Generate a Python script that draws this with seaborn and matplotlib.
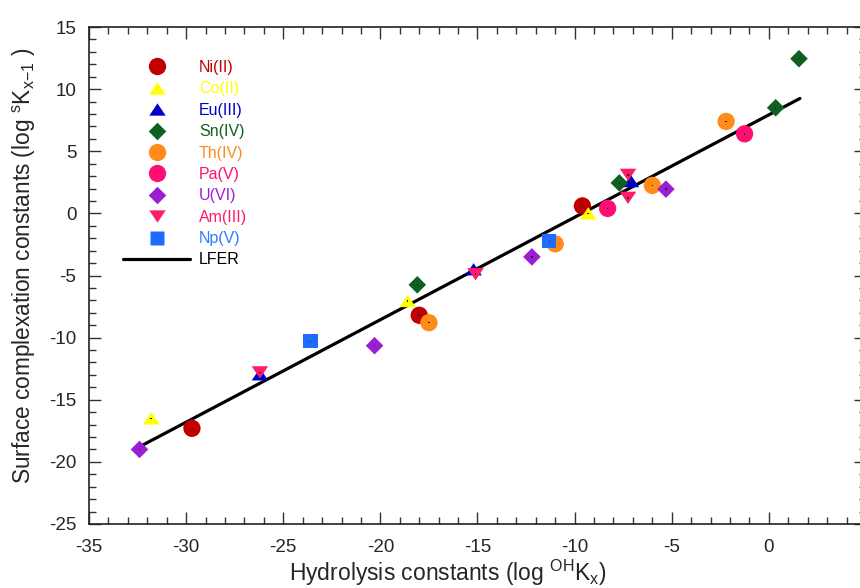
import numpy as np
import pandas as pd
import matplotlib
matplotlib.use("Agg")
import matplotlib.pyplot as plt
from matplotlib.lines import Line2D
from matplotlib.markers import MarkerStyle
from matplotlib.ticker import MultipleLocator
import seaborn as sns

# ---------------- data ----------------
ni_x = [-29.7, -18.0, -9.6]
ni_y = [-17.3, -8.2, 0.6]
co_x = [-31.8, -18.6, -9.3]
co_y = [-16.5, -7.05, 0.0]
eu_x = [-26.2, -15.2, -7.1]
eu_y = [-12.95, -4.5, 2.6]
sn_x = [-18.1, -7.7, 0.35, 1.55]
sn_y = [-5.75, 2.45, 8.5, 12.45]
th_x = [-17.5, -11.0, -6.0, -2.2]
th_y = [-8.8, -2.45, 2.25, 7.4]
pa_x = [-8.3, -1.25]
pa_y = [0.4, 6.4]
u_x = [-32.4, -20.3, -12.2, -5.3]
u_y = [-19.0, -10.65, -3.5, 1.95]
am_x = [-26.2, -15.1, -7.25, -7.25]
am_y = [-12.8, -4.9, 3.1, 1.25]
np_x = [-23.6, -11.3]
np_y = [-10.3, -2.25]
lfer_x = [-32.3, 1.6]
lfer_y = [-18.7, 9.25]

labels = ["Ni(II)", "Co(II)", "Eu(III)", "Sn(IV)", "Th(IV)", "Pa(V)", "U(VI)", "Am(III)", "Np(V)"]
xs = [ni_x, co_x, eu_x, sn_x, th_x, pa_x, u_x, am_x, np_x]
ys = [ni_y, co_y, eu_y, sn_y, th_y, pa_y, u_y, am_y, np_y]

# ---------------- styles ----------------
tri_up = [(-1, -0.75), (1, -0.75), (0, 0.75)]
tri_dn = [(-1, 0.75), (1, 0.75), (0, -0.75)]
diamond = [(0, 1), (1, 0), (0, -1), (-1, 0)]
markers = ["o", tri_up, tri_up, diamond, "o", "o", diamond, tri_dn, "s"]
sizes = [155, 140, 140, 160, 155, 155, 160, 140, 105]
colors = ["#C00000", "#FFFF00", "#0000CC", "#0F6020", "#FF8C1A", "#FF1070",
          "#9A1FD4", "#FF1A6E", "#1F6BFF"]
text_colors = ["#C00000", "#FFFF00", "#0000CC", "#0F6020", "#FF8C1A", "#FF1070",
               "#9A1FD4", "#FF1A6E", "#2F7CFF", "black"]

sns.set_style("ticks")
plt.rcParams["font.family"] = ["Liberation Sans", "DejaVu Sans"]
plt.rcParams["mathtext.fontset"] = "custom"
plt.rcParams["mathtext.rm"] = "Liberation Sans"
plt.rcParams["mathtext.it"] = "Liberation Sans:italic"
plt.rcParams["axes.unicode_minus"] = False

fig = plt.figure(figsize=(8.6, 5.88), dpi=100)
ax = fig.add_axes([89 / 860, 64 / 588, 777 / 860, 497 / 588])

# LFER line
lfer_df = pd.DataFrame({"x": lfer_x, "y": lfer_y})
sns.lineplot(data=lfer_df, x="x", y="y", ax=ax, color="black", linewidth=2.3,
             zorder=1, legend=False)

# scatter series
for lab, x, y, m, s, c in zip(labels, xs, ys, markers, sizes, colors):
    df = pd.DataFrame({"x": x, "y": y})
    sns.scatterplot(data=df, x="x", y="y", ax=ax, marker=MarkerStyle(m), s=s,
                    color=c, edgecolor="none", linewidth=0, zorder=3, legend=False)
    sns.scatterplot(data=df, x="x", y="y", ax=ax, marker="s", s=1.2,
                    color="#222222", edgecolor="none", linewidth=0, zorder=3, legend=False)

ax.set_xlim(-35, 5)
ax.set_ylim(-25, 15)
ax.xaxis.set_major_locator(MultipleLocator(5))
ax.xaxis.set_minor_locator(MultipleLocator(1))
ax.yaxis.set_major_locator(MultipleLocator(5))
ax.yaxis.set_minor_locator(MultipleLocator(1))
ax.tick_params(which="both", direction="in", top=True, right=True, color="#333333",
               width=1.0)
ax.tick_params(which="major", length=8.5, labelsize=13.5)
ax.tick_params(axis="x", which="major", pad=11)
ax.tick_params(axis="y", which="major", pad=9)
ax.tick_params(which="minor", length=5)
for sp in ax.spines.values():
    sp.set_linewidth(1.2)
    sp.set_color("#222222")

ax.set_xlabel(r"Hydrolysis constants (log $^{\mathrm{OH}}$K$_{\mathrm{x}}$)", fontsize=16.5)
ax.xaxis.set_label_coords((448 - 89) / 777, -(558 - 524) / 497)
ax.set_ylabel(r"Surface complexation constants (log $^{\mathrm{s}}$K$_{\mathrm{x\mathrm{-}1}}$ )",
              fontsize=16.3)
ax.yaxis.set_label_coords(-(89 - 38) / 777, (524 - 266) / 497)

# legend
handles = []
for lab, m, s, c in zip(labels, markers, sizes, colors):
    handles.append(Line2D([], [], linestyle="none", marker=MarkerStyle(m),
                          markersize=np.sqrt(s), markerfacecolor=c,
                          markeredgecolor="none", label=lab))
handles.append(Line2D([], [], color="black", linewidth=2.3, label="LFER"))
leg = ax.legend(handles=handles, loc="upper left", bbox_to_anchor=((123 - 89) / 777, (524 - 60) / 497),
                frameon=False, fontsize=11.5, handlelength=4.2, handletextpad=0.55,
                labelspacing=0.40, borderpad=0, borderaxespad=0, labelcolor=text_colors)

fig.savefig("out.png", dpi=100)
